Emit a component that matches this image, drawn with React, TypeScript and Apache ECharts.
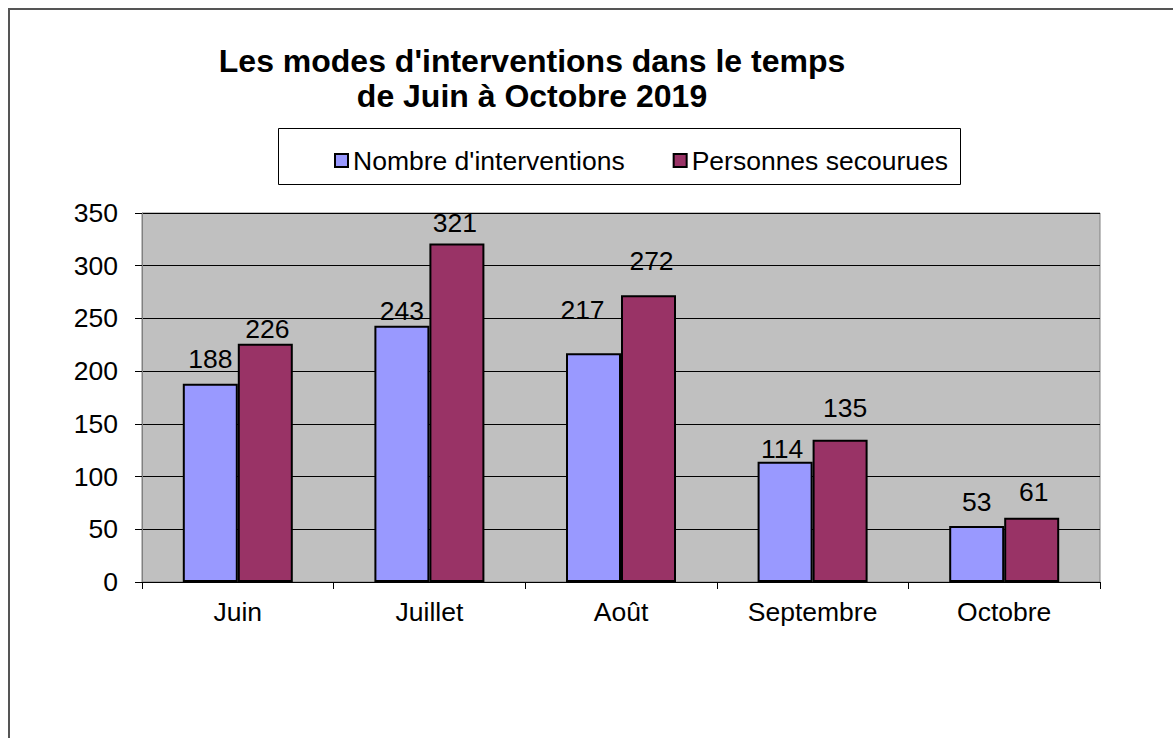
import React, { useEffect, useRef } from "react";
import * as echarts from "echarts";

const months = ["Juin", "Juillet", "Août", "Septembre", "Octobre"];
const interventions = [188, 243, 217, 114, 53];
const secourues = [226, 321, 272, 135, 61];
const seriesNames = ["Nombre d'interventions", "Personnes secourues"];
const yTicks = { min: 0, max: 350, interval: 50 };

// label placement tweaks (style only): [dx, gap above bar]
const labelPosA: [number, number][] = [[0, 16], [0, 6], [-11, 35], [-3, 4], [0, 16]];
const labelPosB: [number, number][] = [[2, 6], [-2, 12], [3, 26], [5, 23], [2, 17]];

const FONT = "Liberation Sans, Arial, sans-serif";
const FS = 26.5;

function mkData(vals: number[], pos: [number, number][]) {
  return vals.map((v, i) => ({
    value: v,
    label: { offset: [pos[i][0], -(pos[i][1] - 5)] },
  }));
}

export default function App() {
  const ref = useRef<HTMLDivElement>(null);
  useEffect(() => {
    if (!ref.current) return;
    const chart = echarts.init(ref.current, undefined, { renderer: "svg" });
    const labelBase = {
      show: true,
      position: "top",
      distance: 0,
      fontSize: FS,
      color: "#000",
      fontFamily: FONT,
    };
    chart.setOption({
      animation: false,
      backgroundColor: "#fff",
      textStyle: { fontFamily: FONT },
      title: [
        {
          text: "Les modes d'interventions dans le temps",
          left: 527,
          top: 40,
          textAlign: "center",
          textStyle: { fontSize: 32, fontWeight: "bold", color: "#000", fontFamily: FONT },
        },
        {
          text: "de Juin à Octobre 2019",
          left: 527,
          top: 75,
          textAlign: "center",
          textStyle: { fontSize: 32, fontWeight: "bold", color: "#000", fontFamily: FONT },
        },
      ],
      graphic: [
        {
          type: "rect",
          shape: { x: 9, y: 9, width: 1200, height: 800 },
          style: { fill: "none", stroke: "#555", lineWidth: 2 },
          silent: true,
        },
        {
          type: "rect",
          shape: { x: 278.5, y: 128.5, width: 682, height: 56 },
          style: { fill: "#fff", stroke: "#000", lineWidth: 1 },
          silent: true,
          z: -1,
        },
      ],
      legend: {
        left: 329,
        top: 142,
        itemWidth: 13,
        itemHeight: 13,
        itemGap: 48,
        icon: "rect",
        itemStyle: { borderColor: "#000", borderWidth: 2 },
        textStyle: { fontSize: FS, color: "#000", fontFamily: FONT },
        data: seriesNames,
      },
      grid: {
        left: 142,
        right: 73,
        top: 213,
        bottom: 156,
        show: true,
        backgroundColor: "#C0C0C0",
        borderColor: "#808080",
        borderWidth: 1,
      },
      xAxis: {
        type: "category",
        data: months,
        axisLine: { show: true, lineStyle: { color: "#000", width: 1 } },
        axisTick: { show: true, length: 7, lineStyle: { color: "#000" } },
        axisLabel: { fontSize: FS, color: "#000", margin: 16, fontFamily: FONT },
      },
      yAxis: {
        type: "value",
        min: yTicks.min,
        max: yTicks.max,
        interval: yTicks.interval,
        axisLine: { show: true, lineStyle: { color: "#808080" } },
        axisTick: { show: true, length: 7, lineStyle: { color: "#000" } },
        axisLabel: { fontSize: FS, color: "#000", margin: 24, fontFamily: FONT },
        splitLine: { show: true, lineStyle: { color: "#000", width: 1 } },
      },
      series: [
        {
          name: seriesNames[0],
          type: "bar",
          barWidth: 55,
          barGap: "0%",
          itemStyle: { color: "#9999FF", borderColor: "#000", borderWidth: 2 },
          label: labelBase,
          data: mkData(interventions, labelPosA),
        },
        {
          name: seriesNames[1],
          type: "bar",
          barWidth: 55,
          itemStyle: { color: "#993366", borderColor: "#000", borderWidth: 2 },
          label: labelBase,
          data: mkData(secourues, labelPosB),
        },
      ],
    });
    return () => chart.dispose();
  }, []);
  return (
    <div
      ref={ref}
      style={{ position: "fixed", left: 0, top: 0, width: 1173, height: 738 }}
    />
  );
}
